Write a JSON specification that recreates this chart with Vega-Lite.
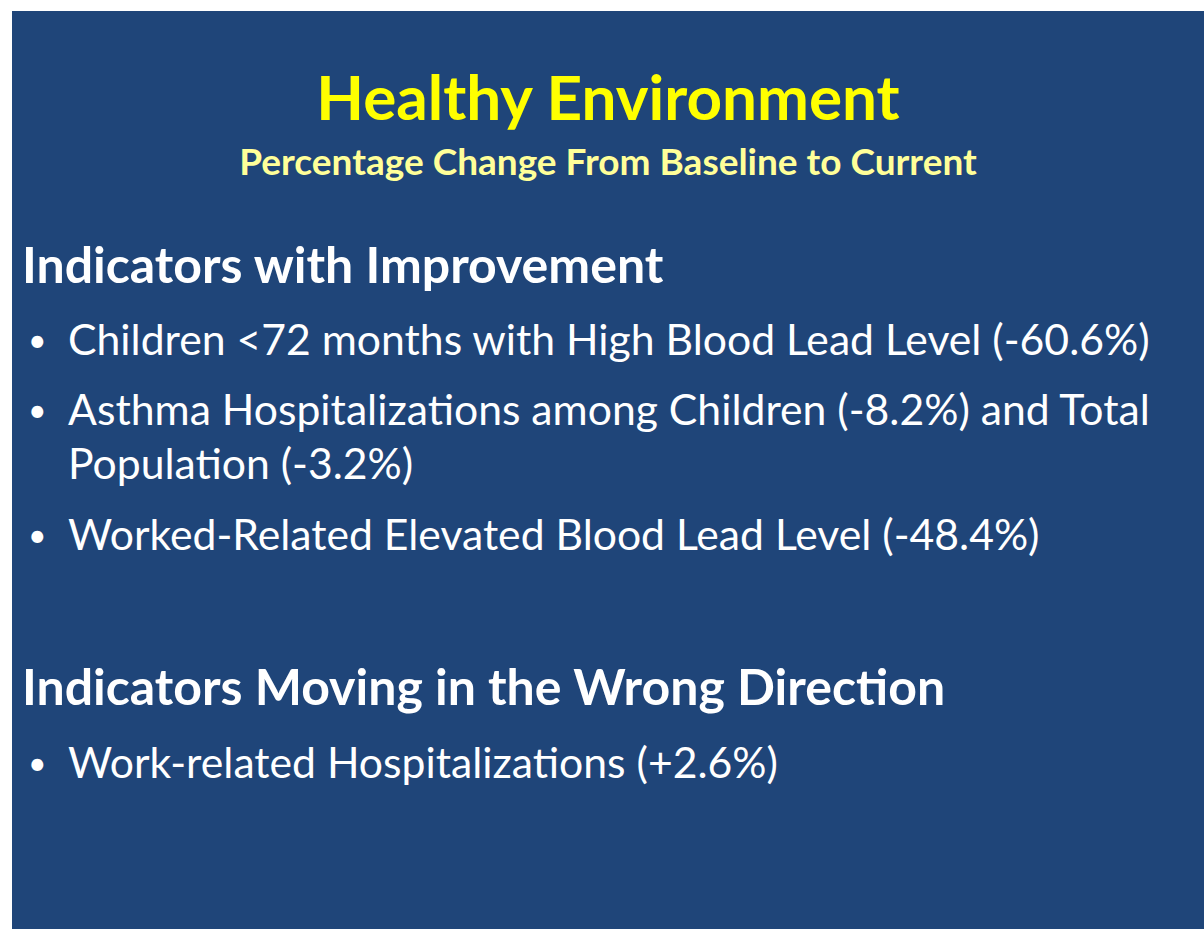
{
  "$schema": "https://vega.github.io/schema/vega-lite/v6.json",
  "width": 1204,
  "height": 929,
  "autosize": {"type": "fit", "contains": "padding"},
  "padding": {"left": 12, "top": 11, "right": 0, "bottom": 0},
  "background": "#ffffff",
  "config": {"view": {"stroke": null, "fill": "#1F4579"}},
  "data": {
    "values": [
      {"role": "title", "text": "Healthy Environment", "line": 1.54, "indent": 50},
      {"role": "subtitle", "text": "Percentage Change From Baseline to Current", "line": 2.32, "indent": 50},
      {"role": "heading", "text": "Indicators with Improvement", "line": 3.85, "indent": 0.84},
      {"role": "bullet", "text": "Children <72 months with High Blood Lead Level (-60.6%)", "line": 4.87, "indent": 4.7},
      {"role": "bullet", "text": "Asthma Hospitalizations among Children (-8.2%) and Total", "line": 5.86, "indent": 4.7},
      {"role": "cont", "text": "Population (-3.2%)", "line": 6.63, "indent": 4.7},
      {"role": "bullet", "text": "Worked-Related Elevated Blood Lead Level (-48.4%)", "line": 7.63, "indent": 4.7},
      {"role": "heading", "text": "Indicators Moving in the Wrong Direction", "line": 9.83, "indent": 0.84},
      {"role": "bullet", "text": "Work-related Hospitalizations (+2.6%)", "line": 10.86, "indent": 4.7}
    ]
  },
  "encoding": {
    "x": {"field": "indent", "type": "quantitative", "scale": {"domain": [0, 100]}, "axis": null},
    "y": {"field": "line", "type": "quantitative", "scale": {"domain": [0, 13], "reverse": true}, "axis": null}
  },
  "layer": [
    {
      "transform": [{"filter": "datum.role === 'title'"}],
      "mark": {"type": "text", "font": "Lato", "fontWeight": "bold", "fontSize": 62, "color": "#FFFF00", "align": "center", "baseline": "alphabetic"},
      "encoding": {"text": {"field": "text"}}
    },
    {
      "transform": [{"filter": "datum.role === 'subtitle'"}],
      "mark": {"type": "text", "font": "Lato", "fontWeight": "bold", "fontSize": 37, "color": "#FFFF99", "align": "center", "baseline": "alphabetic"},
      "encoding": {"text": {"field": "text"}}
    },
    {
      "transform": [{"filter": "datum.role === 'heading'"}],
      "mark": {"type": "text", "font": "Lato", "fontWeight": "bold", "fontSize": 50, "color": "#FFFFFF", "align": "left", "baseline": "alphabetic"},
      "encoding": {"text": {"field": "text"}}
    },
    {
      "transform": [{"filter": "datum.role === 'bullet' || datum.role === 'cont'"}],
      "mark": {"type": "text", "font": "Lato", "fontSize": 42.7, "color": "#FFFFFF", "align": "left", "baseline": "alphabetic"},
      "encoding": {"text": {"field": "text"}}
    },
    {
      "transform": [{"filter": "datum.role === 'bullet'"}],
      "mark": {"type": "text", "font": "Lato", "fontSize": 32, "color": "#FFFFFF", "align": "left", "baseline": "alphabetic", "dy": -3, "text": "•"},
      "encoding": {"x": {"datum": 1.35}}
    }
  ]
}
